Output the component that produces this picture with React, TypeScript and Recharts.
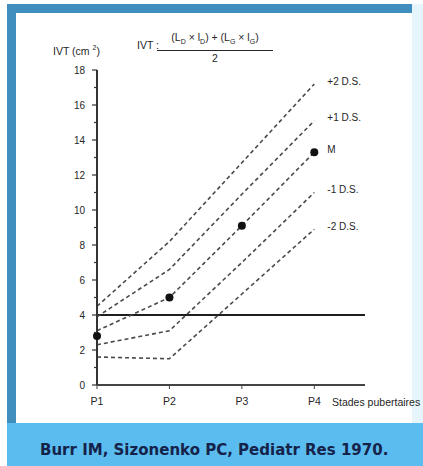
import React from 'react';
import { LineChart, Line, XAxis, YAxis, ReferenceLine } from 'recharts';

// pubertal stages
const stages = [1, 2, 3, 4];
const stageLabels = ['P1', 'P2', 'P3', 'P4'];

// IVT (cm²) curves
const plus2DS = [4.5, 8.2, 12.7, 17.2];
const plus1DS = [3.9, 6.6, 10.9, 15.1];
const meanLine = [3.1, 5.0, 9.1, 13.3];
const minus1DS = [2.3, 3.1, 7.0, 11.0];
const minus2DS = [1.6, 1.5, 5.2, 8.9];
const meanPoints = [2.8, 5.0, 9.1, 13.3];

const yTicks = [0, 1, 2, 3, 4, 5, 6, 7, 8, 9, 10, 11, 12, 13, 14, 15, 16, 17, 18];
const thresholdIVT = 4;

const seriesNames: Record<string, string> = {
  p2: '+2 D.S.',
  p1: '+1 D.S.',
  m: 'M',
  m1: '-1 D.S.',
  m2: '-2 D.S.',
};

const data = stages.map((s, i) => ({
  stage: s,
  p2: plus2DS[i],
  p1: plus1DS[i],
  m: meanLine[i],
  m1: minus1DS[i],
  m2: minus2DS[i],
  pts: meanPoints[i],
}));

const FONT = '"Liberation Sans", Arial, sans-serif';
const INK = '#262626';

const YTick = (props: any) => {
  const { x, y, payload } = props;
  const major = payload.value % 2 === 0;
  const ax = x + 12;
  return (
    <g>
      <line x1={ax - (major ? 5 : 3)} x2={ax} y1={y} y2={y} stroke="#333" strokeWidth={1.2} />
      {major && (
        <text x={x} y={y} textAnchor="end" dominantBaseline="central" fontSize={10} fill={INK} fontFamily={FONT}>
          {payload.value}
        </text>
      )}
    </g>
  );
};

const endLabel = (key: string) => (props: any) => {
  const { x, y, index } = props;
  if (index !== stages.length - 1) return null;
  return (
    <text x={x + 13} y={y - 3} dominantBaseline="central" fontSize={10} fill={INK} fontFamily={FONT}>
      {seriesNames[key]}
    </text>
  );
};

const dashed = { stroke: '#4a4a4a', strokeWidth: 1.6, strokeDasharray: '4 3', dot: false, isAnimationActive: false };

export default function App() {
  return (
    <div style={{ position: 'absolute', left: 0, top: 0, width: 423, height: 466, background: '#fff', overflow: 'hidden' }}>
      {/* frame */}
      <div style={{ position: 'absolute', left: 7, top: 4, width: 405, height: 9, background: '#3f8ebd' }} />
      <div style={{ position: 'absolute', left: 7, top: 4, width: 9, height: 419, background: '#3f8ebd' }} />
      <div style={{ position: 'absolute', left: 412, top: 4, width: 11, height: 419, background: '#e6f4fb' }} />
      <div style={{ position: 'absolute', left: 7, top: 423, width: 416, height: 43, background: '#5bbcf0' }} />
      <div
        style={{
          position: 'absolute', left: 40, top: 440, fontFamily: '"DejaVu Sans", sans-serif', fontSize: 15,
          fontWeight: 'bold', color: '#15234a', lineHeight: '20px', whiteSpace: 'nowrap',
        }}
      >
        Burr IM, Sizonenko PC, Pediatr Res 1970.
      </div>

      {/* titles */}
      <div style={{ position: 'absolute', left: 53, top: 44, fontFamily: FONT, fontSize: 10.5, color: INK, whiteSpace: 'nowrap' }}>
        IVT (cm <sup style={{ fontSize: 7 }}>2</sup>)
      </div>
      <div style={{ position: 'absolute', left: 137, top: 39, fontFamily: FONT, fontSize: 10.5, color: INK, whiteSpace: 'nowrap' }}>
        IVT :
      </div>
      <div style={{ position: 'absolute', left: 157, top: 31, width: 116, fontFamily: FONT, fontSize: 10.5, color: INK, textAlign: 'center', whiteSpace: 'nowrap', lineHeight: '12px' }}>
        <div style={{ borderBottom: '1px solid #262626', paddingBottom: 2 }}>
          (L<sub style={{ fontSize: 7 }}>D</sub> × l<sub style={{ fontSize: 7 }}>D</sub>) + (L<sub style={{ fontSize: 7 }}>G</sub> × l<sub style={{ fontSize: 7 }}>G</sub>)
        </div>
        <div style={{ marginTop: 1 }}>2</div>
      </div>
      <div style={{ position: 'absolute', left: 332, top: 396, fontFamily: FONT, fontSize: 10.5, color: INK, whiteSpace: 'nowrap' }}>
        Stades pubertaires
      </div>

      <div style={{ position: 'absolute', left: 0, top: 0 }}>
        <LineChart width={423} height={423} data={data} margin={{ top: 70, right: 58, bottom: 8, left: 57 }}>
          <XAxis
            dataKey="stage"
            type="number"
            domain={[1, 4.7]}
            ticks={stages}
            tickFormatter={(v: number) => stageLabels[stages.indexOf(v)]}
            axisLine={{ stroke: '#444', strokeWidth: 2 }}
            tickLine={{ stroke: '#444' }}
            tickSize={4}
            tickMargin={9}
            tick={{ fontSize: 10.5, fill: INK, fontFamily: FONT }}
            height={30}
          />
          <YAxis
            type="number"
            domain={[0, 18]}
            ticks={yTicks}
            interval={0}
            width={40}
            tickSize={6}
            tickMargin={6}
            tickLine={false}
            tick={<YTick />}
            axisLine={{ stroke: '#333', strokeWidth: 2 }}
          />
          <ReferenceLine y={thresholdIVT} stroke="#1e1e1e" strokeWidth={2} />
          <Line dataKey="p2" {...dashed} label={endLabel('p2')} />
          <Line dataKey="p1" {...dashed} label={endLabel('p1')} />
          <Line dataKey="m" {...dashed} label={endLabel('m')} />
          <Line dataKey="m1" {...dashed} label={endLabel('m1')} />
          <Line dataKey="m2" {...dashed} label={endLabel('m2')} />
          <Line
            dataKey="pts"
            stroke="none"
            dot={{ r: 4, fill: '#111', stroke: 'none' }}
            activeDot={false}
            isAnimationActive={false}
          />
        </LineChart>
      </div>
    </div>
  );
}
